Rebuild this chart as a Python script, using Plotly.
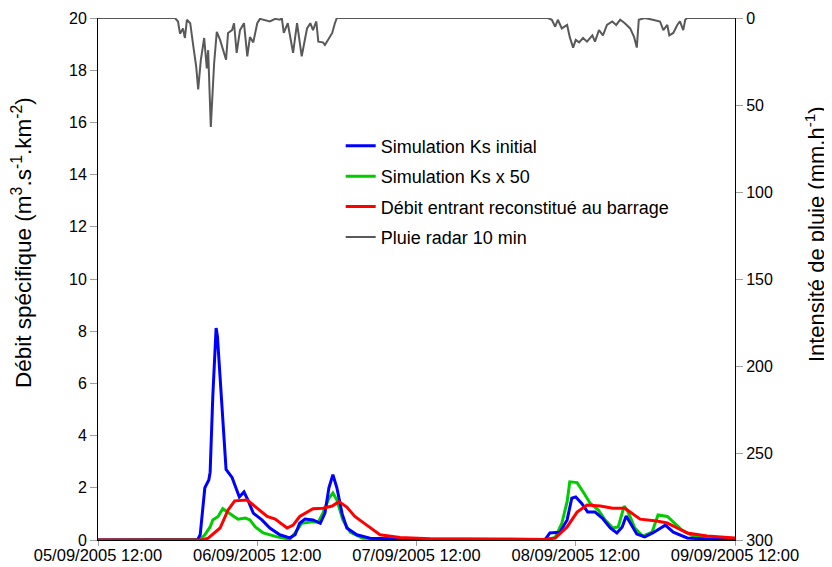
import pandas as pd
import plotly.graph_objects as go

START = "2005-09-05 12:00"

# Simulation Ks initial (hours after start, m3/s/km2)
blue_h = [0, 15.0, 15.4, 16.1, 16.7, 16.9, 17.3, 17.7, 17.8, 18.0, 18.7, 19.3, 20.2, 20.6, 21.3, 22.0, 22.6, 23.4,
          24.7, 25.9, 27.4, 28.9, 29.7, 30.4, 31.2, 32.4, 33.5, 34.2, 34.8, 35.4, 36.0, 36.8, 37.5, 39.0, 41.0,
          45.5, 60.6, 67.4, 68.1, 69.6, 70.7, 71.4, 72.0, 72.9, 73.8, 74.9, 76.0, 77.2, 78.2, 79.0, 79.6, 80.2,
          81.2, 82.4, 83.6, 85.5, 86.7, 88.8, 91.8, 96]
blue_v = [0, 0, 0.2, 2.0, 2.3, 2.6, 5.5, 8.0, 8.12, 7.8, 4.9, 2.7, 2.4, 2.1, 1.65, 1.84, 1.53, 1.03,
          0.77, 0.46, 0.2, 0.08, 0.2, 0.64, 0.8, 0.77, 0.64, 1.03, 2.0, 2.5, 2.0, 1.0, 0.46, 0.2, 0.07,
          0.04, 0.02, 0.02, 0.27, 0.3, 0.77, 1.6, 1.65, 1.4, 1.07, 1.07, 0.84, 0.46, 0.27, 0.5, 0.92, 0.64,
          0.23, 0.12, 0.27, 0.57, 0.3, 0.08, 0.03, 0.02]

# Simulation Ks x 50
green_h = [0, 15.4, 16.1, 16.9, 17.3, 18.1, 18.8, 19.6, 20.3, 21.1, 22.2, 22.9, 23.7, 24.9, 27.0, 28.9, 29.7,
           30.7, 32.0, 33.2, 33.9, 34.8, 35.4, 36.0, 36.9, 38.0, 39.9, 45.5, 67.7, 68.9, 69.9, 70.7, 71.1,
           72.2, 73.1, 74.2, 75.4, 76.4, 77.6, 78.4, 79.3, 79.9, 80.9, 82.1, 83.5, 84.4, 85.8, 86.7, 88.0,
           89.7, 91.8, 96]
green_v = [0, 0.03, 0.2, 0.5, 0.77, 0.9, 1.2, 1.07, 0.96, 0.8, 0.84, 0.77, 0.5, 0.27, 0.12, 0.03, 0.27,
           0.64, 0.69, 0.69, 1.03, 1.6, 1.8, 1.53, 0.77, 0.3, 0.07, 0.02, 0.02, 0.1, 0.64, 1.47, 2.23,
           2.2, 1.85, 1.4, 1.15, 0.77, 0.46, 0.5, 1.3, 1.07, 0.46, 0.15, 0.3, 0.96, 0.9, 0.69, 0.38,
           0.15, 0.07, 0.03]

# Débit entrant reconstitué au barrage
red_h = [0, 15.7, 16.6, 18.4, 19.6, 20.6, 22.5, 24.0, 25.5, 26.7, 28.5, 29.4, 30.4, 32.4, 33.9, 35.3, 36.3,
         37.5, 38.7, 40.5, 42.5, 45.5, 50.0, 60.6, 67.0, 68.9, 70.7, 72.2, 73.7, 75.7, 77.6, 79.4, 80.5,
         81.7, 84.2, 85.8, 87.3, 88.8, 91.8, 95.7, 96]
red_v = [0, 0, 0.07, 0.46, 1.15, 1.5, 1.53, 1.2, 0.9, 0.8, 0.46, 0.57, 0.9, 1.2, 1.22, 1.3, 1.47,
         1.26, 0.9, 0.57, 0.2, 0.1, 0.05, 0.03, 0.02, 0.07, 0.5, 1.07, 1.34, 1.3, 1.22, 1.22, 1.03,
         0.8, 0.73, 0.65, 0.46, 0.27, 0.15, 0.08, 0.08]

# Pluie radar 10 min (mm/h)
rain_h = [0, 11.6, 12.06, 12.36, 12.8, 13.1, 13.4, 13.9, 14.3, 14.8, 15.1, 15.5, 16.0, 16.4, 16.6, 17.0,
          17.5, 17.9, 18.4, 18.8, 19.3, 19.6, 20.2, 20.5, 20.9, 21.4, 22.0, 22.5, 22.9, 23.4, 24.0, 24.4,
          25.0, 25.9, 26.7, 27.4, 27.7, 28.0, 28.6, 29.4, 30.0, 30.7, 31.5, 32.0, 32.4, 32.9, 33.2, 33.9,
          34.2, 34.7, 35.3, 35.7, 36.0, 67.8, 68.4, 68.9, 69.3, 69.9, 70.7, 71.1, 71.6, 72.0, 72.5, 73.1,
          73.7, 74.5, 74.9, 75.5, 76.1, 76.7, 77.5, 78.1, 78.7, 79.4, 80.2, 80.8, 81.2, 81.5, 82.4, 83.6,
          84.7, 85.2, 85.8, 86.1, 86.7, 87.3, 87.7, 88.2, 88.5, 88.8, 96]
rain_v = [0, 0, 2, 9, 6, 11.5, 1, 3, 14.5, 28, 41, 24, 11.5, 29, 18.5, 62.6,
          26, 8, 12.6, 18, 24, 8.6, 7, 3, 20, 7, 3, 22, 11, 14, 3, 0.5,
          1, 2, 0.5, 1, 0, 8.6, 3, 20, 3, 22, 6, 3, 7, 2, 13.6, 14,
          15.5, 12.6, 8.6, 3, 0, 0, 1, 5, 1, 6, 4, 11, 17, 12.6, 14, 11.5,
          13.6, 10, 13.6, 7, 10, 4, 2, 4, 1, 3, 6, 11, 17, 1, 0, 1,
          2, 7, 4, 10, 8.6, 4, 2, 7, 1, 0, 0]

x_ticks = ["2005-09-05 12:00", "2005-09-06 12:00", "2005-09-07 12:00", "2005-09-08 12:00", "2005-09-09 12:00"]
x_tick_labels = ["05/09/2005 12:00", "06/09/2005 12:00", "07/09/2005 12:00", "08/09/2005 12:00", "09/09/2005 12:00"]


def to_time(hours):
    return pd.Timestamp(START) + pd.to_timedelta(hours, unit="h")


FONT = "Liberation Sans, Arial, sans-serif"
fig = go.Figure()

fig.add_trace(go.Scatter(x=to_time(green_h), y=green_v, mode="lines", name="Simulation Ks x 50",
                         line=dict(color="#00CC00", width=3), legendrank=2, legendgroup="g"))
fig.add_trace(go.Scatter(x=to_time(blue_h), y=blue_v, mode="lines", name="Simulation Ks initial",
                         line=dict(color="#0000FF", width=3), legendrank=1, legendgroup="b"))
fig.add_trace(go.Scatter(x=to_time(red_h), y=red_v, mode="lines", name="Débit entrant reconstitué au barrage",
                         line=dict(color="#FF0000", width=3), legendrank=3, legendgroup="r"))
fig.add_trace(go.Scatter(x=to_time(rain_h), y=rain_v, mode="lines", name="Pluie radar 10 min",
                         line=dict(color="#595959", width=2), yaxis="y2", legendrank=4, legendgroup="p"))

fig.update_layout(
    width=824, height=559,
    margin=dict(l=90, r=97, t=10, b=27, autoexpand=False),
    paper_bgcolor="white", plot_bgcolor="white",
    font=dict(family=FONT, size=16, color="black"),
    showlegend=True,
    legend=dict(x=0.381, y=0.79, xanchor="left", yanchor="top", bgcolor="rgba(0,0,0,0)",
                font=dict(size=18), tracegroupgap=4, traceorder="grouped", itemwidth=30),
    xaxis=dict(type="date", range=[x_ticks[0], x_ticks[-1]], tickvals=x_ticks, ticktext=x_tick_labels,
               showgrid=False, zeroline=False, showline=True, linecolor="black", linewidth=1,
               ticks="outside", ticklen=5, tickcolor="#a0a0a0", tickfont=dict(size=16.5), automargin=False,
               ticklabelstandoff=-5),
    yaxis=dict(range=[0, 20], tickvals=list(range(0, 21, 2)), showgrid=False, zeroline=False,
               showline=True, linecolor="black", linewidth=1, ticks="outside", ticklen=7,
               tickcolor="#a0a0a0", tickfont=dict(size=16), automargin=False),
    yaxis2=dict(range=[300, 0], tickvals=list(range(0, 301, 50)), overlaying="y", side="right",
                showgrid=False, zeroline=False, showline=True, linecolor="black", linewidth=1,
                ticks="outside", ticklen=7, tickcolor="#a0a0a0", tickfont=dict(size=16), automargin=False),
    annotations=[
        dict(text="Débit spécifique (m<sup>3</sup>.s<sup>-1</sup>.km<sup>-2</sup>)", xref="paper", yref="paper",
             x=0, y=0.569, xshift=-76, xanchor="center", yanchor="middle", textangle=-90,
             showarrow=False, font=dict(size=22.5)),
        dict(text="Intensité de pluie (mm.h<sup>-1</sup>)", xref="paper", yref="paper",
             x=1, y=0.586, xshift=80, xanchor="center", yanchor="middle", textangle=-90,
             showarrow=False, font=dict(size=22)),
    ],
)

fig.write_html("out.html")
